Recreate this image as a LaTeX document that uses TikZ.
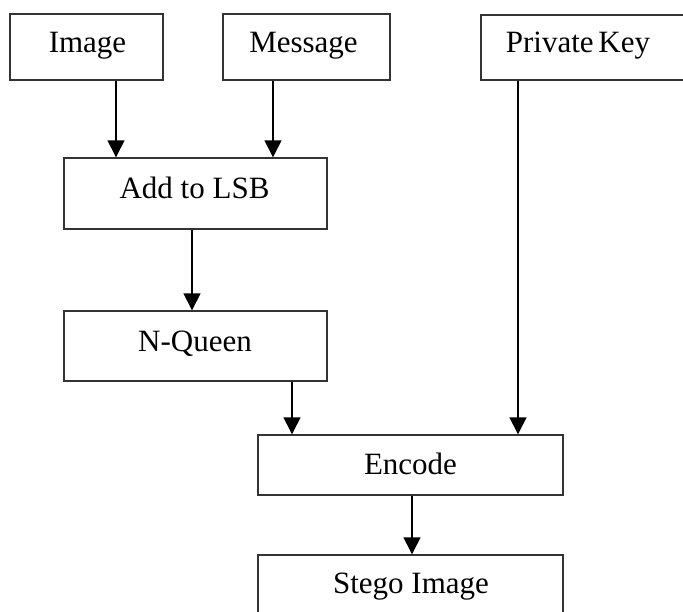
\documentclass[tikz,border=0pt]{standalone}
\usepackage{fontspec}
\setmainfont{Liberation Serif}
\usetikzlibrary{arrows.meta}
\begin{document}
\begin{tikzpicture}[x=1pt,y=-1pt,
  box/.style={draw=black!80, line width=1.4pt, fill=white, inner sep=0pt},
  lbl/.style={anchor=base, inner sep=0pt, font=\fontsize{31}{37}\selectfont},
  arr/.style={line width=1.4pt, -{Triangle[length=17pt,width=17pt]}}]
\useasboundingbox (0,0) rectangle (683,611);
\clip (0,0) rectangle (683,611);
% boxes
\node[box, minimum width=153pt, minimum height=66pt] (img) at (86.5,47) {};
\node[box, minimum width=167pt, minimum height=66pt] (msg) at (306.5,47) {};
\node[box, minimum width=209pt, minimum height=65pt] (pk) at (585.5,47.5) {};
\node[box, minimum width=263pt, minimum height=71pt] (add) at (195.5,193.5) {};
\node[box, minimum width=263pt, minimum height=70pt] (nq) at (195.5,346) {};
\node[box, minimum width=305pt, minimum height=60pt] (enc) at (410.5,465) {};
\node[box, minimum width=305pt, minimum height=65pt] (stg) at (410.5,587.5) {};
% labels
\node[lbl] (imgt) at (87.5,52) {Image};
\node[lbl] (msgt) at (303.5,52) {Message};
\node[lbl] (pkt) at (578,52) {Private\hspace{-3pt} Key};
\node[lbl] (addt) at (194.5,198) {Add to LSB};
\node[lbl] (nqt) at (195,351) {N-Queen};
\node[lbl] (enct) at (410.5,474) {Encode};
\node[lbl] (stgt) at (411,593) {Stego Image};
% connectors
\draw[arr] ([xshift=29.5pt]img.south) -- ([xshift=-79.5pt]add.north);
\draw[arr] ([xshift=-33.5pt]msg.south) -- ([xshift=77.5pt]add.north);
\draw[arr] ([xshift=-3.5pt]add.south) -- ([xshift=-3.5pt]nq.north);
\draw[arr] ([xshift=96.5pt]nq.south) -- ([xshift=-118.5pt]enc.north);
\draw[arr] ([xshift=-67.5pt]pk.south) -- ([xshift=107.5pt]enc.north);
\draw[arr] ([xshift=1.5pt]enc.south) -- ([xshift=1.5pt]stg.north);
\end{tikzpicture}
\end{document}
